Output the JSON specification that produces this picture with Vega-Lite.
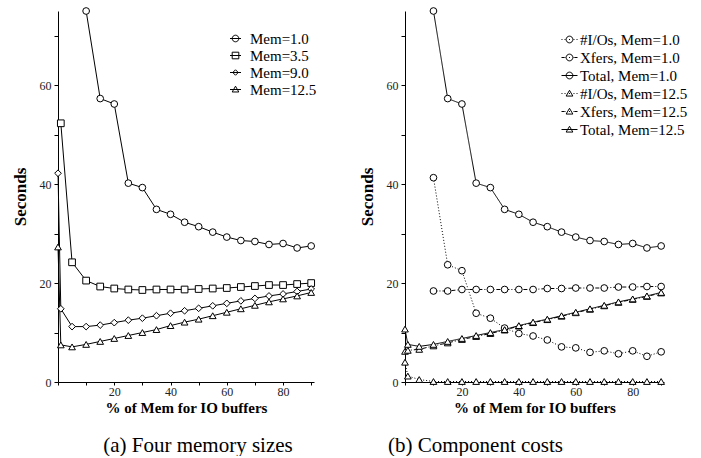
{
  "$schema": "https://vega.github.io/schema/vega-lite/v6.json",
  "padding": {"left": 11, "top": 5, "right": 5, "bottom": 0},
  "background": "white",
  "config": {
    "view": {"stroke": null},
    "font": "Times New Roman, Liberation Serif, DejaVu Serif, serif",
    "concat": {"spacing": 41},
    "axis": {"grid": false, "domainColor": "black", "tickColor": "black", "labelFont": "Times New Roman, Liberation Serif, DejaVu Serif, serif", "labelFontSize": 12, "labelColor": "#222", "titleFont": "Times New Roman, Liberation Serif, DejaVu Serif, serif", "titleFontWeight": "bold", "titleColor": "black"},
    "axisX": {"tickSize": 3, "labelPadding": 1, "titleFontSize": 15, "titlePadding": 3},
    "axisY": {"tickSize": 4, "labelPadding": 3, "titleFontSize": 17, "titlePadding": 10},
    "legend": {"labelFont": "Times New Roman, Liberation Serif, DejaVu Serif, serif"},
    "title": {"font": "Times New Roman, Liberation Serif, DejaVu Serif, serif", "fontSize": 21, "fontWeight": "normal", "color": "black"}
  },
  "datasets": {
    "left": [
      {"s": "Mem=1.0", "x": 10, "y": 75}, {"s": "Mem=1.0", "x": 15, "y": 57.3}, {"s": "Mem=1.0", "x": 20, "y": 56.2}, {"s": "Mem=1.0", "x": 25, "y": 40.2}, {"s": "Mem=1.0", "x": 30, "y": 39.3}, {"s": "Mem=1.0", "x": 35, "y": 34.9}, {"s": "Mem=1.0", "x": 40, "y": 33.9}, {"s": "Mem=1.0", "x": 45, "y": 32.3}, {"s": "Mem=1.0", "x": 50, "y": 31.4}, {"s": "Mem=1.0", "x": 55, "y": 30.3}, {"s": "Mem=1.0", "x": 60, "y": 29.3}, {"s": "Mem=1.0", "x": 65, "y": 28.6}, {"s": "Mem=1.0", "x": 70, "y": 28.4}, {"s": "Mem=1.0", "x": 75, "y": 27.8}, {"s": "Mem=1.0", "x": 80, "y": 28.0}, {"s": "Mem=1.0", "x": 85, "y": 27.1}, {"s": "Mem=1.0", "x": 90, "y": 27.5},
      {"s": "Mem=3.5", "x": 1, "y": 52.3}, {"s": "Mem=3.5", "x": 5, "y": 24.2}, {"s": "Mem=3.5", "x": 10, "y": 20.5}, {"s": "Mem=3.5", "x": 15, "y": 19.3}, {"s": "Mem=3.5", "x": 20, "y": 18.9}, {"s": "Mem=3.5", "x": 25, "y": 18.7}, {"s": "Mem=3.5", "x": 30, "y": 18.6}, {"s": "Mem=3.5", "x": 35, "y": 18.7}, {"s": "Mem=3.5", "x": 40, "y": 18.7}, {"s": "Mem=3.5", "x": 45, "y": 18.7}, {"s": "Mem=3.5", "x": 50, "y": 18.8}, {"s": "Mem=3.5", "x": 55, "y": 18.9}, {"s": "Mem=3.5", "x": 60, "y": 19.0}, {"s": "Mem=3.5", "x": 65, "y": 19.2}, {"s": "Mem=3.5", "x": 70, "y": 19.4}, {"s": "Mem=3.5", "x": 75, "y": 19.6}, {"s": "Mem=3.5", "x": 80, "y": 19.6}, {"s": "Mem=3.5", "x": 85, "y": 19.8}, {"s": "Mem=3.5", "x": 90, "y": 20.0},
      {"s": "Mem=9.0", "x": 0, "y": 42.2}, {"s": "Mem=9.0", "x": 1, "y": 14.8}, {"s": "Mem=9.0", "x": 5, "y": 11.2}, {"s": "Mem=9.0", "x": 10, "y": 11.2}, {"s": "Mem=9.0", "x": 15, "y": 11.5}, {"s": "Mem=9.0", "x": 20, "y": 12.0}, {"s": "Mem=9.0", "x": 25, "y": 12.5}, {"s": "Mem=9.0", "x": 30, "y": 12.9}, {"s": "Mem=9.0", "x": 35, "y": 13.4}, {"s": "Mem=9.0", "x": 40, "y": 13.9}, {"s": "Mem=9.0", "x": 45, "y": 14.4}, {"s": "Mem=9.0", "x": 50, "y": 14.9}, {"s": "Mem=9.0", "x": 55, "y": 15.4}, {"s": "Mem=9.0", "x": 60, "y": 15.9}, {"s": "Mem=9.0", "x": 65, "y": 16.4}, {"s": "Mem=9.0", "x": 70, "y": 16.9}, {"s": "Mem=9.0", "x": 75, "y": 17.4}, {"s": "Mem=9.0", "x": 80, "y": 17.8}, {"s": "Mem=9.0", "x": 85, "y": 18.3}, {"s": "Mem=9.0", "x": 90, "y": 18.8},
      {"s": "Mem=12.5", "x": 0, "y": 27.3}, {"s": "Mem=12.5", "x": 1, "y": 7.5}, {"s": "Mem=12.5", "x": 5, "y": 7.1}, {"s": "Mem=12.5", "x": 10, "y": 7.6}, {"s": "Mem=12.5", "x": 15, "y": 8.2}, {"s": "Mem=12.5", "x": 20, "y": 8.8}, {"s": "Mem=12.5", "x": 25, "y": 9.4}, {"s": "Mem=12.5", "x": 30, "y": 10.0}, {"s": "Mem=12.5", "x": 35, "y": 10.6}, {"s": "Mem=12.5", "x": 40, "y": 11.4}, {"s": "Mem=12.5", "x": 45, "y": 12.1}, {"s": "Mem=12.5", "x": 50, "y": 12.7}, {"s": "Mem=12.5", "x": 55, "y": 13.4}, {"s": "Mem=12.5", "x": 60, "y": 14.1}, {"s": "Mem=12.5", "x": 65, "y": 14.8}, {"s": "Mem=12.5", "x": 70, "y": 15.5}, {"s": "Mem=12.5", "x": 75, "y": 16.2}, {"s": "Mem=12.5", "x": 80, "y": 16.8}, {"s": "Mem=12.5", "x": 85, "y": 17.4}, {"s": "Mem=12.5", "x": 90, "y": 18.1}
    ],
    "right": [
      {"t": "#I/Os, Mem=1.0", "x": 10, "y": 41.3}, {"t": "#I/Os, Mem=1.0", "x": 15, "y": 23.7}, {"t": "#I/Os, Mem=1.0", "x": 20, "y": 22.5}, {"t": "#I/Os, Mem=1.0", "x": 25, "y": 13.9}, {"t": "#I/Os, Mem=1.0", "x": 30, "y": 12.9}, {"t": "#I/Os, Mem=1.0", "x": 35, "y": 10.9}, {"t": "#I/Os, Mem=1.0", "x": 40, "y": 9.8}, {"t": "#I/Os, Mem=1.0", "x": 45, "y": 9.3}, {"t": "#I/Os, Mem=1.0", "x": 50, "y": 8.5}, {"t": "#I/Os, Mem=1.0", "x": 55, "y": 7.1}, {"t": "#I/Os, Mem=1.0", "x": 60, "y": 6.9}, {"t": "#I/Os, Mem=1.0", "x": 65, "y": 6.0}, {"t": "#I/Os, Mem=1.0", "x": 70, "y": 6.3}, {"t": "#I/Os, Mem=1.0", "x": 75, "y": 5.7}, {"t": "#I/Os, Mem=1.0", "x": 80, "y": 6.3}, {"t": "#I/Os, Mem=1.0", "x": 85, "y": 5.2}, {"t": "#I/Os, Mem=1.0", "x": 90, "y": 6.1},
      {"t": "Xfers, Mem=1.0", "x": 10, "y": 18.4}, {"t": "Xfers, Mem=1.0", "x": 15, "y": 18.4}, {"t": "Xfers, Mem=1.0", "x": 20, "y": 18.7}, {"t": "Xfers, Mem=1.0", "x": 25, "y": 18.7}, {"t": "Xfers, Mem=1.0", "x": 30, "y": 18.7}, {"t": "Xfers, Mem=1.0", "x": 35, "y": 18.7}, {"t": "Xfers, Mem=1.0", "x": 40, "y": 18.7}, {"t": "Xfers, Mem=1.0", "x": 45, "y": 18.7}, {"t": "Xfers, Mem=1.0", "x": 50, "y": 18.9}, {"t": "Xfers, Mem=1.0", "x": 55, "y": 18.9}, {"t": "Xfers, Mem=1.0", "x": 60, "y": 19.0}, {"t": "Xfers, Mem=1.0", "x": 65, "y": 19.0}, {"t": "Xfers, Mem=1.0", "x": 70, "y": 19.0}, {"t": "Xfers, Mem=1.0", "x": 75, "y": 19.2}, {"t": "Xfers, Mem=1.0", "x": 80, "y": 19.2}, {"t": "Xfers, Mem=1.0", "x": 85, "y": 19.3}, {"t": "Xfers, Mem=1.0", "x": 90, "y": 19.3},
      {"t": "Total, Mem=1.0", "x": 10, "y": 75}, {"t": "Total, Mem=1.0", "x": 15, "y": 57.3}, {"t": "Total, Mem=1.0", "x": 20, "y": 56.2}, {"t": "Total, Mem=1.0", "x": 25, "y": 40.2}, {"t": "Total, Mem=1.0", "x": 30, "y": 39.3}, {"t": "Total, Mem=1.0", "x": 35, "y": 34.9}, {"t": "Total, Mem=1.0", "x": 40, "y": 33.9}, {"t": "Total, Mem=1.0", "x": 45, "y": 32.3}, {"t": "Total, Mem=1.0", "x": 50, "y": 31.4}, {"t": "Total, Mem=1.0", "x": 55, "y": 30.3}, {"t": "Total, Mem=1.0", "x": 60, "y": 29.3}, {"t": "Total, Mem=1.0", "x": 65, "y": 28.6}, {"t": "Total, Mem=1.0", "x": 70, "y": 28.4}, {"t": "Total, Mem=1.0", "x": 75, "y": 27.8}, {"t": "Total, Mem=1.0", "x": 80, "y": 28.0}, {"t": "Total, Mem=1.0", "x": 85, "y": 27.1}, {"t": "Total, Mem=1.0", "x": 90, "y": 27.5},
      {"t": "#I/Os, Mem=12.5", "x": 0, "y": 4.0}, {"t": "#I/Os, Mem=12.5", "x": 1, "y": 1.2}, {"t": "#I/Os, Mem=12.5", "x": 5, "y": 0.5}, {"t": "#I/Os, Mem=12.5", "x": 10, "y": 0.1}, {"t": "#I/Os, Mem=12.5", "x": 15, "y": 0.1}, {"t": "#I/Os, Mem=12.5", "x": 20, "y": 0.1}, {"t": "#I/Os, Mem=12.5", "x": 25, "y": 0.1}, {"t": "#I/Os, Mem=12.5", "x": 30, "y": 0.1}, {"t": "#I/Os, Mem=12.5", "x": 35, "y": 0.1}, {"t": "#I/Os, Mem=12.5", "x": 40, "y": 0.1}, {"t": "#I/Os, Mem=12.5", "x": 45, "y": 0.1}, {"t": "#I/Os, Mem=12.5", "x": 50, "y": 0.1}, {"t": "#I/Os, Mem=12.5", "x": 55, "y": 0.1}, {"t": "#I/Os, Mem=12.5", "x": 60, "y": 0.1}, {"t": "#I/Os, Mem=12.5", "x": 65, "y": 0.1}, {"t": "#I/Os, Mem=12.5", "x": 70, "y": 0.1}, {"t": "#I/Os, Mem=12.5", "x": 75, "y": 0.1}, {"t": "#I/Os, Mem=12.5", "x": 80, "y": 0.1}, {"t": "#I/Os, Mem=12.5", "x": 85, "y": 0.1}, {"t": "#I/Os, Mem=12.5", "x": 90, "y": 0.1},
      {"t": "Xfers, Mem=12.5", "x": 0, "y": 6.2}, {"t": "Xfers, Mem=12.5", "x": 1, "y": 6.4}, {"t": "Xfers, Mem=12.5", "x": 5, "y": 6.6}, {"t": "Xfers, Mem=12.5", "x": 10, "y": 7.3}, {"t": "Xfers, Mem=12.5", "x": 15, "y": 7.9}, {"t": "Xfers, Mem=12.5", "x": 20, "y": 8.6}, {"t": "Xfers, Mem=12.5", "x": 25, "y": 9.2}, {"t": "Xfers, Mem=12.5", "x": 30, "y": 9.8}, {"t": "Xfers, Mem=12.5", "x": 35, "y": 10.5}, {"t": "Xfers, Mem=12.5", "x": 40, "y": 11.3}, {"t": "Xfers, Mem=12.5", "x": 45, "y": 12.0}, {"t": "Xfers, Mem=12.5", "x": 50, "y": 12.6}, {"t": "Xfers, Mem=12.5", "x": 55, "y": 13.3}, {"t": "Xfers, Mem=12.5", "x": 60, "y": 14.0}, {"t": "Xfers, Mem=12.5", "x": 65, "y": 14.7}, {"t": "Xfers, Mem=12.5", "x": 70, "y": 15.4}, {"t": "Xfers, Mem=12.5", "x": 75, "y": 16.1}, {"t": "Xfers, Mem=12.5", "x": 80, "y": 16.7}, {"t": "Xfers, Mem=12.5", "x": 85, "y": 17.3}, {"t": "Xfers, Mem=12.5", "x": 90, "y": 18.0},
      {"t": "Total, Mem=12.5", "x": 0, "y": 10.7}, {"t": "Total, Mem=12.5", "x": 1, "y": 7.6}, {"t": "Total, Mem=12.5", "x": 5, "y": 7.2}, {"t": "Total, Mem=12.5", "x": 10, "y": 7.6}, {"t": "Total, Mem=12.5", "x": 15, "y": 8.2}, {"t": "Total, Mem=12.5", "x": 20, "y": 8.8}, {"t": "Total, Mem=12.5", "x": 25, "y": 9.4}, {"t": "Total, Mem=12.5", "x": 30, "y": 10.0}, {"t": "Total, Mem=12.5", "x": 35, "y": 10.6}, {"t": "Total, Mem=12.5", "x": 40, "y": 11.4}, {"t": "Total, Mem=12.5", "x": 45, "y": 12.1}, {"t": "Total, Mem=12.5", "x": 50, "y": 12.7}, {"t": "Total, Mem=12.5", "x": 55, "y": 13.4}, {"t": "Total, Mem=12.5", "x": 60, "y": 14.1}, {"t": "Total, Mem=12.5", "x": 65, "y": 14.8}, {"t": "Total, Mem=12.5", "x": 70, "y": 15.5}, {"t": "Total, Mem=12.5", "x": 75, "y": 16.2}, {"t": "Total, Mem=12.5", "x": 80, "y": 16.8}, {"t": "Total, Mem=12.5", "x": 85, "y": 17.4}, {"t": "Total, Mem=12.5", "x": 90, "y": 18.1}
    ]
  },
  "resolve": {"scale": {"shape": "independent", "strokeDash": "independent"}, "legend": {"shape": "independent", "strokeDash": "independent"}},
  "hconcat": [
    {
      "width": 256, "height": 371,
      "data": {"name": "left"},
      "title": {"text": "(a) Four memory sizes", "font": "Times New Roman, Liberation Serif, serif", "orient": "bottom", "anchor": "middle", "frame": "group", "dx": 12, "offset": 20},
      "resolve": {"scale": {"shape": "independent"}, "legend": {"shape": "independent"}},
      "encoding": {
        "x": {"field": "x", "type": "quantitative", "scale": {"domain": [0, 91], "nice": false}, "axis": {"title": "% of Mem for IO buffers", "values": [0, 10, 20, 30, 40, 50, 60, 70, 80, 90], "labelExpr": "datum.value % 20 == 0 && datum.value > 0 ? datum.label : ''"}},
        "y": {"field": "y", "type": "quantitative", "scale": {"domain": [0, 75], "nice": false}, "axis": {"title": "Seconds", "values": [0, 10, 20, 30, 40, 50, 60, 70], "labelExpr": "datum.value % 20 == 0 ? datum.label : ''"}}
      },
      "layer": [
        {"mark": {"type": "line", "color": "black", "strokeWidth": 1}, "encoding": {"detail": {"field": "s"}}},
        {"mark": {"type": "point", "fill": "white", "stroke": "black", "strokeWidth": 1, "opacity": 1, "size": 45, "filled": false},
         "encoding": {"shape": {"field": "s", "type": "nominal", "legend": null,
           "scale": {"range": ["circle", "triangle-up", "square", "diamond"]}}}},
        {"transform": [{"filter": "false"}],
         "mark": {"type": "point", "fill": "white", "stroke": "black", "strokeWidth": 1, "filled": false},
         "encoding": {"shape": {"field": "s", "type": "nominal",
           "scale": {"domain": ["Mem=1.0", "Mem=3.5", "Mem=9.0", "Mem=12.5"], "range": ["M-1,0H1M0.6,0A0.6,0.6,0,1,1,-0.6,0A0.6,0.6,0,1,1,0.6,0Z", "M-1,0H1M-0.6,-0.6H0.6V0.6H-0.6Z", "M-1,0H1M0,-0.5L0.5,0L0,0.5L-0.5,0Z", "M-1,0H1M0,-0.6L0.6,0.45H-0.6Z"]},
           "legend": {"orient": "none", "legendX": 170, "legendY": 20, "title": null, "padding": 0, "labelFontSize": 15, "labelColor": "black", "symbolSize": 121, "symbolOpacity": 1, "symbolStrokeWidth": 1, "labelOffset": 7, "rowPadding": 1,
             "encode": {"symbols": {"fill": {"value": "white"}, "stroke": {"value": "black"}}}}}}}
      ]
    },
    {
      "width": 259, "height": 371,
      "data": {"name": "right"},
      "title": {"text": "(b) Component costs", "font": "Times New Roman, Liberation Serif, serif", "orient": "bottom", "anchor": "middle", "frame": "group", "dx": -59, "offset": 20},
      "resolve": {"scale": {"shape": "independent"}, "legend": {"shape": "independent"}},
      "encoding": {
        "x": {"field": "x", "type": "quantitative", "scale": {"domain": [0, 91], "nice": false}, "axis": {"title": "% of Mem for IO buffers", "values": [0, 10, 20, 30, 40, 50, 60, 70, 80, 90], "labelExpr": "datum.value % 20 == 0 && datum.value > 0 ? datum.label : ''"}},
        "y": {"field": "y", "type": "quantitative", "scale": {"domain": [0, 75], "nice": false}, "axis": {"title": "Seconds", "values": [0, 10, 20, 30, 40, 50, 60, 70], "labelExpr": "datum.value % 20 == 0 ? datum.label : ''"}}
      },
      "layer": [
        {"mark": {"type": "line", "color": "black", "strokeWidth": 1},
         "encoding": {"strokeDash": {"field": "t", "type": "nominal", "legend": null,
           "scale": {"range": [[1, 2], [1, 2], [1, 0], [1, 0], [4, 2, 1, 2], [4, 2, 1, 2]]}}}},
        {"mark": {"type": "point", "fill": "white", "stroke": "black", "strokeWidth": 1, "opacity": 1, "size": 45, "filled": false},
         "encoding": {"shape": {"field": "t", "type": "nominal", "legend": null,
           "scale": {"range": ["circle", "triangle-up", "circle", "triangle-up", "circle", "triangle-up"]}}}},
        {"transform": [{"filter": "false"}],
         "mark": {"type": "point", "fill": "white", "stroke": "black", "strokeWidth": 1, "filled": false},
         "encoding": {"shape": {"field": "t", "type": "nominal",
           "scale": {"domain": ["#I/Os, Mem=1.0", "Xfers, Mem=1.0", "Total, Mem=1.0", "#I/Os, Mem=12.5", "Xfers, Mem=12.5", "Total, Mem=12.5"],
             "range": [
               "M-1,0h0.12M-0.62,0h0.12M-0.06,0h0.12M0.5,0h0.12M0.88,0h0.12M0.42,0A0.42,0.42,0,1,1,-0.42,0A0.42,0.42,0,1,1,0.42,0Z",
               "M-1,0h0.4M-0.5,0h0.06M-0.06,0h0.12M0.44,0h0.06M0.6,0h0.4M0.42,0A0.42,0.42,0,1,1,-0.42,0A0.42,0.42,0,1,1,0.42,0Z",
               "M-1,0H1M0.42,0A0.42,0.42,0,1,1,-0.42,0A0.42,0.42,0,1,1,0.42,0Z",
               "M-1,0h0.12M-0.62,0h0.12M-0.06,0h0.12M0.5,0h0.12M0.88,0h0.12M0,-0.4L0.42,0.32H-0.42Z",
               "M-1,0h0.4M-0.5,0h0.06M-0.06,0h0.12M0.44,0h0.06M0.6,0h0.4M0,-0.4L0.42,0.32H-0.42Z",
               "M-1,0H1M0,-0.4L0.42,0.32H-0.42Z"]},
           "legend": {"orient": "none", "legendX": 156, "legendY": 20, "title": null, "padding": 0, "labelFontSize": 15, "labelColor": "black", "symbolSize": 256, "symbolOpacity": 1, "symbolStrokeWidth": 1, "labelOffset": 2, "rowPadding": 1,
             "encode": {"symbols": {"fill": {"value": "white"}, "stroke": {"value": "black"}}}}}}}
      ]
    }
  ]
}
